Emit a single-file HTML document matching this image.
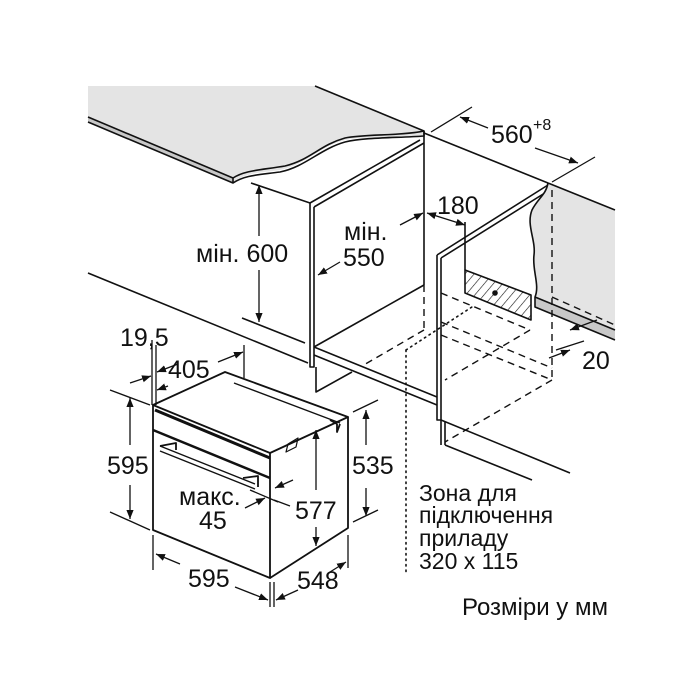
<!DOCTYPE html>
<html><head><meta charset="utf-8"><style>
html,body{margin:0;padding:0;background:#fff;}
svg{display:block;}
text{font-family:"Liberation Sans",Arial,sans-serif;fill:#111;}
</style></head><body>
<svg width="700" height="700" viewBox="0 0 700 700" xmlns="http://www.w3.org/2000/svg">
<defs>
<marker id="a" viewBox="0 0 10 10" refX="10" refY="5" markerWidth="9" markerHeight="9" orient="auto-start-reverse" markerUnits="userSpaceOnUse"><path d="M0,1 L10,5 L0,9 Z" fill="#111"/></marker>
<pattern id="h" width="7" height="7" patternUnits="userSpaceOnUse" patternTransform="rotate(40)"><line x1="0" y1="0" x2="0" y2="7" stroke="#111" stroke-width="1.2"/></pattern>
</defs>
<g stroke="#111" stroke-width="1.6" fill="none" stroke-linejoin="round">
<path d="M88,86 L315,86 L424,131 L424,137 C400,138 360,136 345,140 C320,146 305,165 280,170 C260,173 245,172 233,183 L233,183 L88,123 Z" fill="#e4e4e4" stroke="none"/>
<path d="M88,117 L233,178 L233,183 L88,122" fill="#c8c8c8"/>
<path d="M233,178 C245,170 262,170 285,166 C310,160 320,145 345,138 C365,134 400,136 424,131 L424,136 C400,138 365,137 345,142 C320,149 305,167 280,172 C258,175 245,175 233,183"/>
<path d="M315,86 L424,131"/>
<path d="M251,183 L310,203"/>
<path d="M310,203 L420,140 M314,207 L424,143"/>
<path d="M310,203 L310,367 L314,367 L314,207"/>
<path d="M424,131 L424,285"/>
<path d="M314,347 L424,285"/>
<path d="M314,347 L437,397 M314,355 L437,405"/>
<path d="M316,367 L316,392 L352,372"/>
<path d="M88,273 L308,363"/>
<path d="M242,318 L305,343"/>
<path d="M424,133 L548,183"/>
<path d="M437,255 L548,185 M441,258 L548,191"/>
<path d="M437,255 L437,420 L441,420 L441,258"/>
<path d="M441,420 L441,445 M445,422 L445,445"/>
<path d="M441,420 L570,473 M445,445 L532,480"/>
<path d="M548,183 L615,210 L615,340 L535,307 L535,297 C540,285 532,270 534,255 C536,240 526,225 532,210 C538,198 546,195 548,183 Z" fill="#e4e4e4" stroke="none"/>
<path d="M535,297 L615,330 L615,340 L535,307 Z" fill="#c8c8c8" stroke="none"/>
<path d="M548,183 L615,210"/>
<path d="M548,183 C546,195 538,198 532,210 C526,225 536,240 534,255 C532,270 540,285 535,297 L535,307 L615,340 M535,297 L615,330"/>
<path d="M465,270 L531,295 L531,320 L465,293 Z" fill="url(#h)"/>
<circle cx="495" cy="293" r="2" fill="#111"/>
<path d="M465,222 L465,270"/>
</g>
<g stroke="#111" stroke-width="1.4" fill="none" stroke-dasharray="7,5">
<path d="M424,285 L424,330"/>
<path d="M424,330 L362,366"/>
<path d="M441,293 L530,330"/>
<path d="M441,322 L552,368"/>
<path d="M441,335 L552,380"/>
<path d="M552,190 L552,380"/>
<path d="M552,380 L445,442"/>
<path d="M530,330 L445,380"/>
<path d="M552,297 L615,325"/>
</g>
<g stroke="#111" stroke-width="1.6" fill="none" stroke-dasharray="1.5,4" stroke-linecap="round">
<path d="M406,350 L406,572"/>
<path d="M406,350 L475,305"/>
</g>
<g stroke="#111" stroke-width="1.8" fill="none" stroke-linejoin="round">
<path d="M153,405 L225,372 L348,417 L270,453 Z"/>
<path d="M153,405 L153,530 L270,578 L270,453"/>
<path d="M270,578 L348,528 L348,417"/>
<path d="M155,410 L270,458" stroke-width="3"/>
<path d="M153,430 L270,478" stroke-width="2.5"/>
<path d="M160,446 L255,484 M160,451 L255,489" stroke-width="1.4"/>
<path d="M160,446 L176,443 L176,450 M243,478 L258,476 L258,487"/>
<path d="M234,383 L340,423" stroke-width="1.4"/>
<path d="M286,452 L296,447 L298,438 L288,444 Z" stroke-width="1.2"/>
<path d="M330,420 L337,424 L337,432 L340,424"/>
</g>
<g stroke="#111" stroke-width="1.3" fill="none">
<path d="M259,185 L259,236 M259,270 L259,322" marker-start="url(#a)" marker-end="url(#a)"/>
<path d="M318,275 L340,262" marker-start="url(#a)"/>
<path d="M400,225 L423,213" marker-end="url(#a)"/>
<path d="M427,213 L465,225" marker-start="url(#a)" marker-end="url(#a)"/>
<path d="M431,132 L472,107 M552,182 L595,157"/>
<path d="M460,117 L488,128" marker-start="url(#a)"/>
<path d="M535,148 L578,163" marker-end="url(#a)"/>
<path d="M570,330 L597,320" marker-start="url(#a)"/>
<path d="M556,350 L584,341"/>
<path d="M549,358 L570,350" marker-end="url(#a)"/>
<path d="M152,340 L152,405 M156,345 L156,405 M244,345 L244,378"/>
<path d="M130,383 L151,376" marker-end="url(#a)"/>
<path d="M157,372 L178,364" marker-start="url(#a)"/>
<path d="M157,390 L168,386" marker-start="url(#a)"/>
<path d="M218,362 L243,352" marker-end="url(#a)"/>
<path d="M110,390 L150,405 M110,512 L150,530"/>
<path d="M130,398 L130,445" marker-start="url(#a)"/>
<path d="M130,485 L130,519" marker-end="url(#a)"/>
<path d="M153,535 L153,570 M270,582 L270,607 M274,582 L274,607"/>
<path d="M156,554 L180,564" marker-start="url(#a)"/>
<path d="M235,587 L268,600" marker-end="url(#a)"/>
<path d="M348,535 L348,568"/>
<path d="M276,600 L298,590" marker-start="url(#a)"/>
<path d="M330,572 L346,562" marker-end="url(#a)"/>
<path d="M353,412 L378,400 M353,522 L378,510"/>
<path d="M366,410 L366,445" marker-start="url(#a)"/>
<path d="M366,488 L366,516" marker-end="url(#a)"/>
<path d="M316,430 L316,490" marker-start="url(#a)"/>
<path d="M316,527 L316,546" marker-end="url(#a)"/>
<path d="M250,490 L278,502 M274,500 L290,506"/>
<path d="M275,488 L293,480" marker-start="url(#a)"/>
<path d="M245,508 L265,498" marker-end="url(#a)"/>
</g>
<g font-size="25">
<text x="196" y="262">мін. 600</text>
<text x="344" y="240">мін.</text>
<text x="343" y="266">550</text>
<text x="437" y="214">180</text>
<text x="491" y="143">560</text>
<text x="533" y="130" font-size="16">+8</text>
<text x="582" y="369">20</text>
<text x="120" y="346">19,5</text>
<text x="168" y="378">405</text>
<text x="107" y="474">595</text>
<text x="352" y="474">535</text>
<text x="179" y="505">макс.</text>
<text x="199" y="529">45</text>
<text x="295" y="519">577</text>
<text x="188" y="587">595</text>
<text x="297" y="589">548</text>
</g>
<g font-size="23">
<text x="419" y="501">Зона для</text>
<text x="419" y="523">підключення</text>
<text x="419" y="546">приладу</text>
<text x="419" y="569">320 x 115</text>
<text x="462" y="615" font-size="24">Розміри у мм</text>
</g>
</svg>
</body></html>
